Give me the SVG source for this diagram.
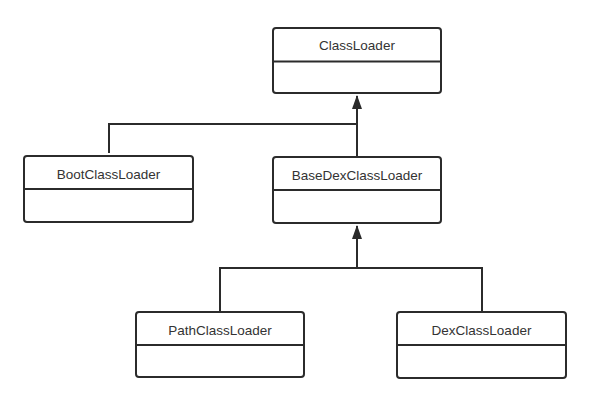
<svg xmlns="http://www.w3.org/2000/svg" width="591" height="403" viewBox="0 0 591 403">
<style>
.box{fill:#fff;stroke:#2b2b2b;stroke-width:2}
.div{stroke:#2b2b2b;stroke-width:2}
.lbl{font-family:"Liberation Sans",Arial,sans-serif;font-size:13.5px;fill:#333;text-anchor:middle}
.con{fill:none;stroke:#2b2b2b;stroke-width:2}
</style>
<defs>
<marker id="tri" markerWidth="14" markerHeight="10" refX="13" refY="5" orient="auto" markerUnits="userSpaceOnUse" viewBox="0 0 14 10">
<path d="M14,5 L0,10 L0,0 Z" fill="#2b2b2b"/>
</marker>
</defs>
<rect width="591" height="403" fill="#fff"/>
<g id="ClassLoader">
<rect class="box" x="273" y="28" width="168" height="65" rx="3"/>
<line class="div" x1="273" y1="61.5" x2="441" y2="61.5"/>
<text class="lbl" x="357" y="50">ClassLoader</text>
</g>
<g id="BootClassLoader">
<rect class="box" x="24" y="156" width="169" height="66" rx="3"/>
<line class="div" x1="24" y1="189" x2="193" y2="189"/>
<text class="lbl" x="108.5" y="178.5">BootClassLoader</text>
</g>
<g id="BaseDexClassLoader">
<rect class="box" x="273" y="157" width="168" height="66" rx="3"/>
<line class="div" x1="273" y1="190" x2="441" y2="190"/>
<text class="lbl" x="357" y="179.5">BaseDexClassLoader</text>
</g>
<g id="PathClassLoader">
<rect class="box" x="136" y="312" width="168" height="65" rx="3"/>
<line class="div" x1="136" y1="345" x2="304" y2="345"/>
<text class="lbl" x="220" y="334.5">PathClassLoader</text>
</g>
<g id="DexClassLoader">
<rect class="box" x="397" y="312" width="169" height="66" rx="3"/>
<line class="div" x1="397" y1="345" x2="566" y2="345"/>
<text class="lbl" x="481.5" y="334.5">DexClassLoader</text>
</g>
<g id="connectors">
<path class="con" d="M357,157 L357,96" marker-end="url(#tri)"/>
<path class="con" d="M109,153 L109,124 L357,124"/>
<path class="con" d="M220,311 L220,268 L482,268 L482,311"/>
<path class="con" d="M357,268 L357,226" marker-end="url(#tri)"/>
</g>
</svg>
